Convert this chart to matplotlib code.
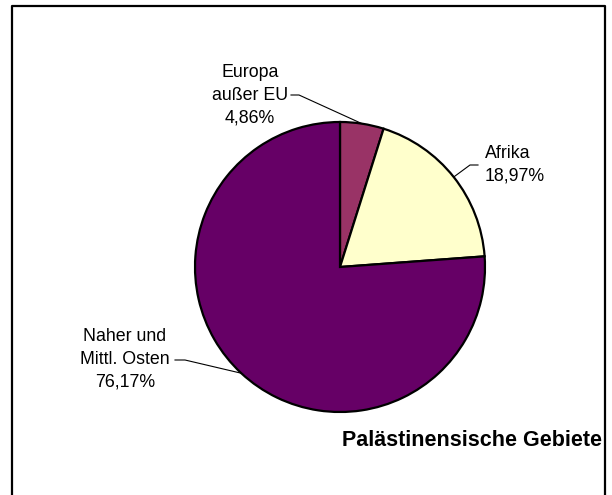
import numpy as np
import matplotlib
matplotlib.use("Agg")
import matplotlib.pyplot as plt

plt.rcParams['font.family'] = ['Liberation Sans', 'DejaVu Sans']

# Daten
labels = ['Europa\naußer EU', 'Afrika', 'Naher und\nMittl. Osten']
values = [4.86, 18.97, 76.17]
colors = ['#993366', '#FFFFCC', '#660066']
title = 'Palästinensische Gebiete'

W, H = 612, 495
fig = plt.figure(figsize=(W / 100, H / 100), dpi=100)
ax = fig.add_axes([0, 0, 1, 1])

cx, cy, r = 340, H - 267, 145
ax.pie(values, colors=colors, startangle=90, counterclock=False,
       center=(cx, cy), radius=r, frame=True,
       wedgeprops=dict(edgecolor='black', linewidth=1.6))
ax.set_xlim(0, W)
ax.set_ylim(0, H)
ax.set_aspect('equal')
ax.axis('off')

# Mittelwinkel der Segmente
cum = np.cumsum([0] + values)
mid = 90 - (cum[:-1] + cum[1:]) / 2 / 100 * 360
edge = [(cx + r * np.cos(np.radians(a)), cy + r * np.sin(np.radians(a))) for a in mid]

fs = 12.8
txt = [l + '\n' + f'{v:.2f}'.replace('.', ',') + '%' for l, v in zip(labels, values)]

# Europa
ax.text(250, H - 95, txt[0], ha='center', va='center', fontsize=fs, linespacing=1.45)
ax.plot([291, 299, edge[0][0]], [H - 95, H - 95, edge[0][1]], color='black', lw=0.8)
# Afrika
ax.text(485, H - 165, txt[1], ha='left', va='center', fontsize=fs, linespacing=1.45)
ax.plot([478, 470, edge[1][0]], [H - 165, H - 165, edge[1][1]], color='black', lw=0.8)
# Naher und Mittl. Osten
ax.text(125, H - 359, txt[2], ha='center', va='center', fontsize=fs, linespacing=1.45)
ax.plot([175, 185, edge[2][0]], [H - 360, H - 360, edge[2][1]], color='black', lw=0.8)

ax.text(602, H - 440, title, ha='right', va='center', fontsize=15.5, fontweight='bold')

# Rahmen
ax.plot([12, 12, 605, 605], [0, H - 6, H - 6, 0], color='black', lw=1.6, clip_on=False)

fig.savefig('out.png', dpi=100)
